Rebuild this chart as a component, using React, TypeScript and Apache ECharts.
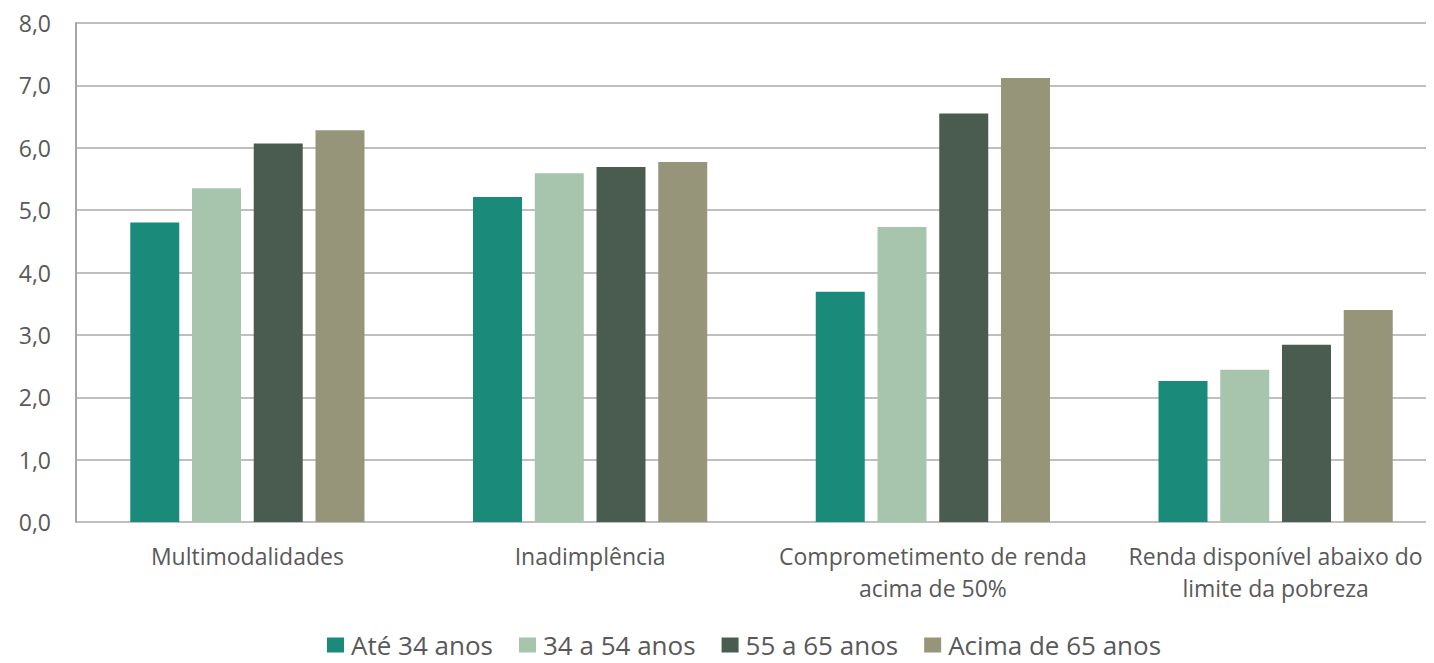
import React, { useEffect, useRef } from "react";
import * as echarts from "echarts";

const categories = [
  "Multimodalidades",
  "Inadimplência",
  "Comprometimento de renda\nacima de 50%",
  "Renda disponível abaixo do\nlimite da pobreza",
];
const seriesNames = ["Até 34 anos", "34 a 54 anos", "55 a 65 anos", "Acima de 65 anos"];
const ate34 = [4.8, 5.21, 3.69, 2.26];
const de34a54 = [5.35, 5.59, 4.73, 2.44];
const de55a65 = [6.07, 5.69, 6.55, 2.84];
const acima65 = [6.28, 5.77, 7.12, 3.4];
const colors = ["#1a8a7b", "#a7c4ad", "#4a5c50", "#96957a"];
const yTicks = [0, 1, 2, 3, 4, 5, 6, 7, 8];

export default function App() {
  const ref = useRef<HTMLDivElement>(null);
  useEffect(() => {
    if (!ref.current) return;
    const chart = echarts.init(ref.current, null, { renderer: "svg" });
    const values = [ate34, de34a54, de55a65, acima65];
    chart.setOption({
      animation: false,
      textStyle: { fontFamily: "Open Sans" },
      grid: { left: 68, top: 15, width: 1371, height: 499 },
      legend: {
        top: 624,
        left: 319,
        padding: 0,
        itemWidth: 17,
        itemHeight: 15,
        itemGap: 26,
        icon: "rect",
        textStyle: { fontSize: 26, color: "#595959", fontFamily: "Open Sans", padding: [0, 0, 0, 2] },
        data: seriesNames,
      },
      xAxis: {
        type: "category",
        data: categories,
        axisLine: { show: false },
        axisTick: { show: false },
        axisLabel: {
          fontSize: 23,
          color: "#595959",
          margin: 18,
          lineHeight: 32,
          interval: 0,
        },
      },
      yAxis: {
        type: "value",
        min: yTicks[0],
        max: yTicks[yTicks.length - 1],
        interval: 1,
        axisLine: { show: true, lineStyle: { color: "#a6a6a6", width: 2 } },
        axisTick: { show: false },
        splitLine: { lineStyle: { color: "#bfbfbf", width: 2 } },
        axisLabel: {
          fontSize: 23,
          color: "#595959",
          margin: 25,
          formatter: (v: number) => v.toFixed(1).replace(".", ","),
        },
      },
      series: seriesNames.map((name, i) => ({
        name,
        type: "bar",
        data: values[i],
        barWidth: 49,
        barGap: "26%",
        itemStyle: { color: colors[i] },
      })),
    });
    return () => chart.dispose();
  }, []);
  return (
    <div style={{ width: 1418, height: 655, overflow: "hidden" }}>
      <div ref={ref} style={{ width: 1460, height: 655 }} />
    </div>
  );
}
